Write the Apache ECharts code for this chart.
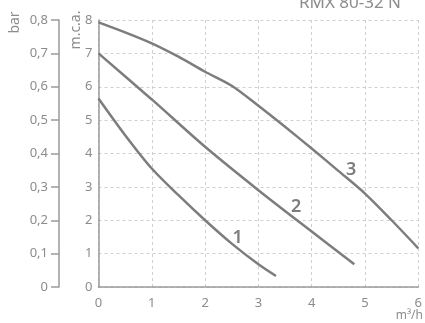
<!DOCTYPE html>
<html><head><meta charset="utf-8">
<script src="https://cdn.jsdelivr.net/npm/echarts@6/dist/echarts.min.js"></script>
<style>html,body{margin:0;padding:0;background:#fff}#c{width:425px;height:323px}</style>
</head><body><div id="c"></div>
<script>
// Data (flow m3/h, head m.c.a.)
const curve1 = [[0,5.65],[0.5,4.55],[1,3.55],[1.5,2.75],[2,2.0],[2.5,1.3],[3,0.68],[3.33,0.33]];
const curve2 = [[0,7.0],[1,5.62],[2,4.2],[3,2.9],[4,1.66],[4.8,0.68]];
const curve3 = [[0,7.93],[0.5,7.63],[1,7.3],[1.5,6.9],[2,6.45],[2.5,6.03],[3,5.43],[3.5,4.8],[4,4.15],[4.5,3.48],[5,2.8],[5.5,2.0],[6,1.16]];
const curveNames = ['1','2','3'];
const labelPos = [[2.61,1.48],[3.71,2.40],[4.74,3.52]];
const xTicks = [0,1,2,3,4,5,6];
const titleText = 'RMX 80-32 N';

const FONT = 'Noto Sans';
const TXT = '#8c8c8c';
const AX = '#9a9a9a';
const LINE = '#7d7d7d';
const curves = [curve1, curve2, curve3];

const chart = echarts.init(document.getElementById('c'), null, {renderer:'canvas'});
chart.setOption({
  animation:false,
  textStyle:{fontFamily:FONT},
  grid:{left:98.5, right:4.3, top:20, bottom:36, containLabel:false},
  xAxis:{type:'value', min:xTicks[0], max:xTicks[xTicks.length-1], interval:1,
    axisLine:{show:true, lineStyle:{color:AX, width:1.5}},
    axisTick:{show:false},
    axisLabel:{color:TXT, fontSize:13, margin:10, fontFamily:FONT},
    splitLine:{show:true, lineStyle:{color:'#cfcfcf', type:[3,3], width:1}}
  },
  yAxis:[
    {type:'value', min:0, max:8, interval:1, position:'left',
      axisLine:{show:true, onZero:false, lineStyle:{color:AX, width:1.5}},
      axisTick:{show:false},
      axisLabel:{color:TXT, fontSize:13, margin:6, fontFamily:FONT},
      splitLine:{show:true, lineStyle:{color:'#cfcfcf', type:[3,3], width:1}}
    },
    {type:'value', min:0, max:0.8, interval:0.1, position:'left', offset:39.5,
      axisLine:{show:true, onZero:false, lineStyle:{color:AX, width:1.5}},
      axisTick:{show:true, inside:false, length:8, lineStyle:{color:AX, width:1.5}},
      axisLabel:{color:TXT, fontSize:13, margin:11, fontFamily:FONT,
        formatter:v=> v===0 ? '0' : v.toFixed(1).replace('.', ',')},
      splitLine:{show:false}
    }
  ],
  series: curves.map((d,i)=>({
    type:'line', name:curveNames[i], data:d, smooth:0.3, showSymbol:false, symbol:'none',
    lineStyle:{color:LINE, width:2.5}, yAxisIndex:0,
    markPoint:{symbol:'circle', symbolSize:1, itemStyle:{color:'rgba(0,0,0,0)'},
      label:{show:true, position:'inside', formatter:curveNames[i], color:LINE, fontSize:18, fontWeight:600, fontFamily:FONT},
      data:[{coord:labelPos[i]}]}
  })),
  graphic:[
    {type:'text', x:350, y:12, style:{text:titleText, fill:TXT, font:'17px "'+FONT+'"', textAlign:'center', textVerticalAlign:'bottom'}},
    {type:'text', x:423, y:322, style:{text:'m³/h', fill:TXT, font:'12px "'+FONT+'"', textAlign:'right', textVerticalAlign:'bottom'}},
    {type:'text', x:15, y:22.5, rotation:Math.PI/2, style:{text:'bar', fill:TXT, font:'14px "'+FONT+'"', textAlign:'center', textVerticalAlign:'middle'}},
    {type:'text', x:76, y:30, rotation:Math.PI/2, style:{text:'m.c.a.', fill:TXT, font:'14px "'+FONT+'"', textAlign:'center', textVerticalAlign:'middle'}}
  ]
});
</script></body></html>
